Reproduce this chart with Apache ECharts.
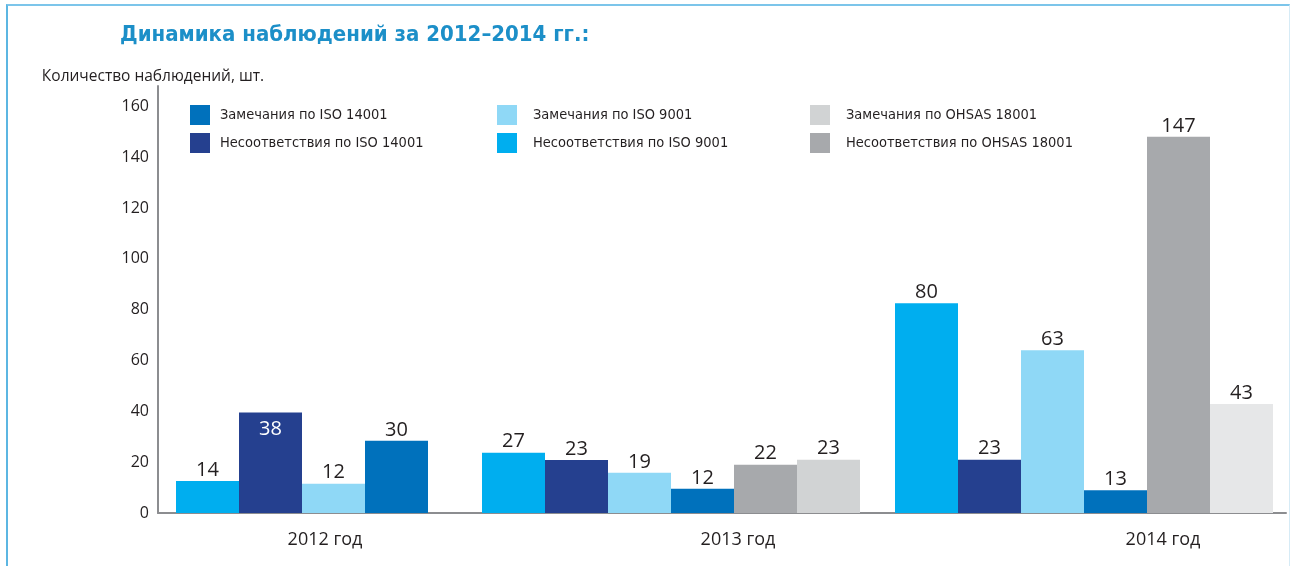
<!DOCTYPE html>
<html>
<head>
<meta charset="utf-8">
<title>Динамика наблюдений за 2012–2014 гг.</title>
<script src="https://cdn.jsdelivr.net/npm/echarts@6/dist/echarts.min.js"></script>
<style>
  html, body { margin: 0; padding: 0; background: #fff; }
  .frame {
    position: absolute; left: 6px; top: 4px; width: 1281px; height: 600px;
    border-top: 2px solid #7cc5ea; border-left: 2px solid #5cb6e2; border-right: 1px solid #d6ebf6;
  }
  #chart { position: absolute; left: 0; top: 0; width: 1292px; height: 566px; }
</style>
</head>
<body>
<div class="frame"></div>
<div id="chart"></div>
<script>
const years = ['2012 год', '2013 год', '2014 год']
const yTicks = [0, 20, 40, 60, 80, 100, 120, 140, 160]

// order of the bars inside every year group
const names = [
  'Несоответствия по ISO 9001',
  'Несоответствия по ISO 14001',
  'Замечания по ISO 9001',
  'Замечания по ISO 14001',
  'Несоответствия по OHSAS 18001',
  'Замечания по OHSAS 18001'
]

// bar heights as drawn in the source and the numbers printed over them (they differ a little)
const bars2012 = [12.6, 39.5, 11.5, 28.4]
const bars2013 = [23.7, 20.9, 15.8, 9.5, 19, 21]
const bars2014 = [82.5, 21, 64, 9, 148, 42.9]
const labels2012 = [14, 38, 12, 30]
const labels2013 = [27, 23, 19, 12, 22, 23]
const labels2014 = [80, 23, 63, 13, 147, 43]

const legendCols = [
  ['Замечания по ISO 14001', 'Несоответствия по ISO 14001'],
  ['Замечания по ISO 9001', 'Несоответствия по ISO 9001'],
  ['Замечания по OHSAS 18001', 'Несоответствия по OHSAS 18001']
]

const colors = {
  'Несоответствия по ISO 9001': '#00aeef',
  'Несоответствия по ISO 14001': '#25408f',
  'Замечания по ISO 9001': '#8fd8f6',
  'Замечания по ISO 14001': '#0071bc',
  'Несоответствия по OHSAS 18001': '#a7a9ac',
  'Замечания по OHSAS 18001': '#d1d3d4'
}

const textColor = '#231f20'
const axisColor = '#8c8d90'
const numFont = 'Open Sans'
const narrowFont = '"DejaVu Sans Condensed", "DejaVu Sans"'

// each year sits in its own grid so the groups can have different widths
const groups = [
  { left: 176, width: 252, shift: 23, bars: bars2012, labels: labels2012 },
  { left: 482, width: 378, shift: 67, bars: bars2013, labels: labels2013 },
  { left: 895, width: 378, shift: 79, bars: bars2014, labels: labels2014 }
]

const grid = [{ left: 158, right: 6, top: 86, bottom: 53 }]
const xAxis = [{
  gridIndex: 0,
  type: 'category',
  data: years,
  axisLine: { lineStyle: { color: axisColor, width: 2 } },
  axisTick: { show: false },
  axisLabel: { show: false }
}]
const yAxis = [{
  gridIndex: 0,
  type: 'value',
  min: yTicks[0],
  max: 168,
  interval: yTicks[1] - yTicks[0],
  name: 'Количество наблюдений, шт.',
  nameLocation: 'end',
  nameGap: 1,
  nameTextStyle: { fontFamily: numFont, fontSize: 15.5, color: textColor, align: 'center', padding: [0, 10, 0, 0] },
  axisLine: { show: true, lineStyle: { color: axisColor, width: 2 } },
  axisTick: { show: false },
  splitLine: { show: false },
  axisLabel: {
    margin: 9,
    fontFamily: numFont,
    fontSize: 16,
    color: textColor,
    formatter: v => (yTicks.indexOf(v) >= 0 ? String(v) : '')
  }
}]
const series = []

groups.forEach((g, k) => {
  grid.push({ left: g.left, width: g.width, top: 86, bottom: 53 })
  xAxis.push({
    gridIndex: k + 1,
    type: 'category',
    data: [years[k]],
    axisLine: { show: false },
    axisTick: { show: false },
    axisLabel: {
      margin: 18,
      padding: [0, 0, 0, g.shift * 2],
      fontFamily: numFont,
      fontSize: 18,
      color: textColor
    }
  })
  yAxis.push({ gridIndex: k + 1, type: 'value', min: 0, max: 168, show: false })
  g.bars.forEach((v, i) => {
    let color = colors[names[i]]
    if (k === 2 && i === 5) color = '#e6e7e8'
    // the 38 of 2012 is printed inside its bar
    const inside = k === 0 && i === 1
    series.push({
      type: 'bar',
      name: names[i],
      xAxisIndex: k + 1,
      yAxisIndex: k + 1,
      data: [v],
      barWidth: 63,
      barGap: '0%',
      itemStyle: { color: color },
      label: {
        show: true,
        position: inside ? 'insideTop' : 'top',
        distance: inside ? 7 : 1,
        formatter: String(g.labels[i]),
        fontFamily: numFont,
        fontSize: 20,
        color: inside ? '#fff' : textColor
      }
    })
  })
})

const option = {
  animation: false,
  title: {
    text: 'Динамика наблюдений за 2012–2014 гг.:',
    left: 120,
    top: 24,
    padding: 0,
    textStyle: { fontFamily: narrowFont, fontWeight: 'bold', fontSize: 22, color: '#1c8fc8' }
  },
  legend: legendCols.map((col, j) => ({
    orient: 'vertical',
    left: [190, 497, 810][j],
    top: 105,
    padding: 0,
    itemWidth: 20,
    itemHeight: 20,
    itemGap: 8,
    icon: 'rect',
    selectedMode: false,
    data: col,
    textStyle: { fontFamily: narrowFont, fontSize: 14.5, color: textColor, padding: [0, 0, 0, j === 0 ? 5 : 11] }
  })),
  grid: grid,
  xAxis: xAxis,
  yAxis: yAxis,
  series: series
}

const chart = echarts.init(document.getElementById('chart'))
chart.setOption(option)
window.addEventListener('resize', () => chart.resize())
</script>
</body>
</html>
